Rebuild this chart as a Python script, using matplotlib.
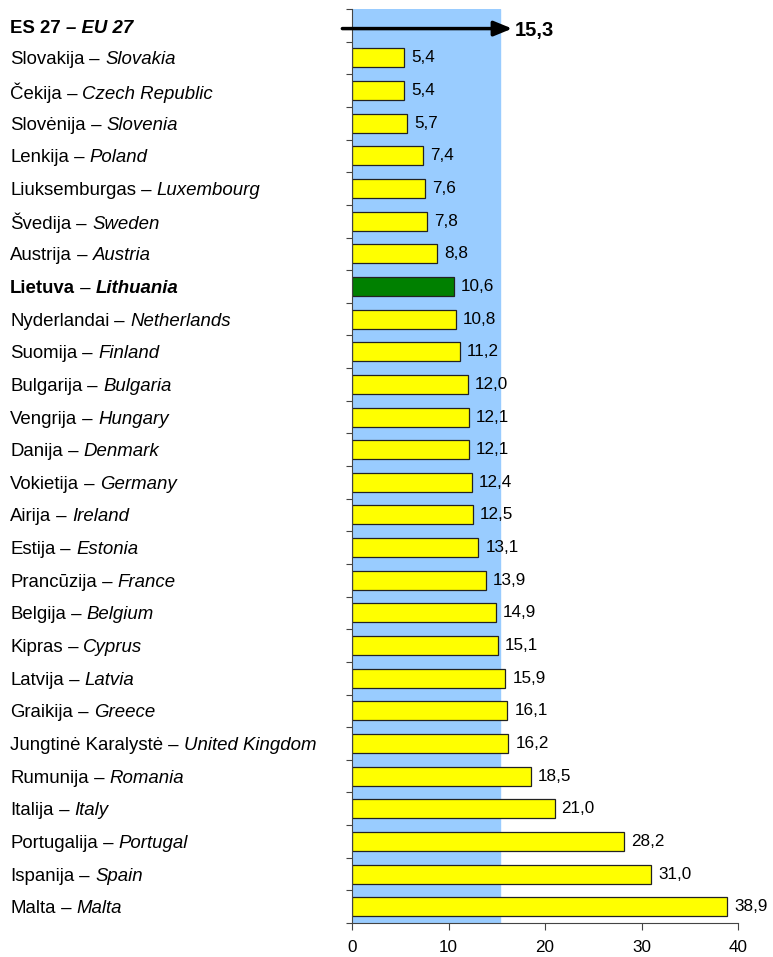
import matplotlib
matplotlib.use("Agg")
import matplotlib.pyplot as plt
from matplotlib.transforms import blended_transform_factory

plt.rcParams['font.family'] = ['Liberation Sans', 'DejaVu Sans']

lt_names = ["Slovakija", "Čekija", "Slovėnija", "Lenkija", "Liuksemburgas", "Švedija",
            "Austrija", "Lietuva", "Nyderlandai", "Suomija", "Bulgarija", "Vengrija",
            "Danija", "Vokietija", "Airija", "Estija", "Prancūzija", "Belgija", "Kipras",
            "Latvija", "Graikija", "Jungtinė Karalystė", "Rumunija", "Italija",
            "Portugalija", "Ispanija", "Malta"]
en_names = ["Slovakia", "Czech Republic", "Slovenia", "Poland", "Luxembourg", "Sweden",
            "Austria", "Lithuania", "Netherlands", "Finland", "Bulgaria", "Hungary",
            "Denmark", "Germany", "Ireland", "Estonia", "France", "Belgium", "Cyprus",
            "Latvia", "Greece", "United Kingdom", "Romania", "Italy",
            "Portugal", "Spain", "Malta"]
values = [5.4, 5.4, 5.7, 7.4, 7.6, 7.8, 8.8, 10.6, 10.8, 11.2, 12.0, 12.1, 12.1, 12.4,
          12.5, 13.1, 13.9, 14.9, 15.1, 15.9, 16.1, 16.2, 18.5, 21.0, 28.2, 31.0, 38.9]
eu_label_lt = "ES 27"
eu_label_en = "EU 27"
eu_value = 15.3
highlight = "Lietuva"
xticks = [0, 10, 20, 30, 40]

fig = plt.figure(figsize=(7.73, 9.57), dpi=100)
ax = fig.add_axes([352 / 773, 34 / 957, 386 / 773, 914 / 957])

n = len(values) + 1
ax.set_xlim(0, 40)
ax.set_ylim(n - 0.5, -0.5)

# blue EU band
ax.axvspan(0, eu_value, color='#99CCFF', zorder=0)

ypos = list(range(1, n))
colors = ['#008000' if nm == highlight else '#FFFF00' for nm in lt_names]
ax.barh(ypos, values, height=0.58, color=colors, edgecolor='#222222', linewidth=0.9, zorder=2)

for y, v in zip(ypos, values):
    ax.annotate(f"{v:.1f}".replace('.', ','), xy=(v, y), xytext=(5, 0),
                textcoords='offset points', va='center', ha='left', fontsize=12.3, color='black')

# EU arrow
ax.annotate("", xy=(eu_value + 1.3, 0.1), xytext=(-1.0, 0.1),
            arrowprops=dict(arrowstyle='-|>,head_length=1.1,head_width=0.45', lw=2.5,
                            color='black', shrinkA=0, shrinkB=0),
            annotation_clip=False, zorder=5)
ax.text(eu_value + 1.6, 0.15, f"{eu_value:.1f}".replace('.', ','), fontsize=14.5,
        fontweight='bold', va='center', ha='left')

# axes styling
for s in ['top', 'right']:
    ax.spines[s].set_visible(False)
ax.spines['left'].set_color('#444444')
ax.spines['bottom'].set_color('#444444')
ax.set_xticks(xticks)
ax.set_xticklabels([str(t) for t in xticks], fontsize=12.3)
ax.tick_params(axis='x', direction='out', length=5, color='#444444', pad=7)
ax.set_yticks([k - 0.5 for k in range(n + 1)])
ax.set_yticklabels([])
ax.tick_params(axis='y', direction='out', length=4, color='#444444')

# category labels
trans = blended_transform_factory(fig.transFigure, ax.transData)
lx = 10 / 773
fs = 13.4
t1 = ax.text(lx, 0.05, f"{eu_label_lt} ", transform=trans, fontsize=fs, fontweight='bold',
             va='center_baseline', ha='left')
ax.annotate(f"– {eu_label_en}", xy=(1, 0), xycoords=t1, fontsize=fs, fontweight='bold',
            fontstyle='italic', va='bottom', ha='left')
for y, lt, en in zip(ypos, lt_names, en_names):
    w = 'bold' if lt == highlight else 'normal'
    t = ax.text(lx, y, lt, transform=trans, fontsize=fs, fontweight=w,
                va='center_baseline', ha='left')
    d = ax.annotate(" – ", xy=(1, 0), xycoords=t, fontsize=fs, fontweight='normal',
                    va='bottom', ha='left')
    ax.annotate(en, xy=(1, 0), xycoords=d, fontsize=fs, fontweight=w,
                fontstyle='italic', va='bottom', ha='left')

fig.savefig("out.png", dpi=100)
